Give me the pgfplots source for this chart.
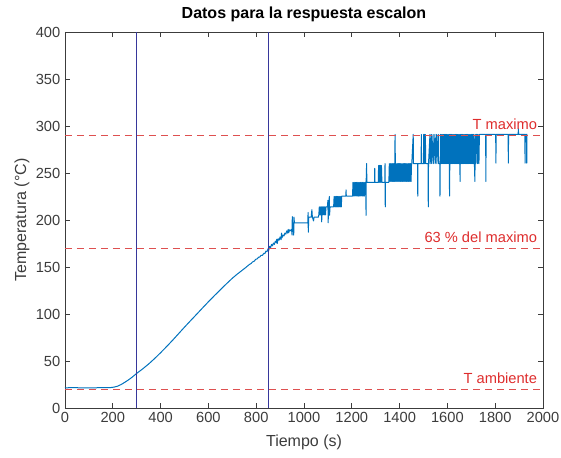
\documentclass[border=0pt]{standalone}
\usepackage{fontspec}
\setmainfont{Liberation Sans}
\usepackage{pgfplots}
\pgfplotsset{compat=1.18}
\definecolor{mblue}{rgb}{0,0.447,0.741}
\definecolor{vline}{RGB}{55,55,155}
\definecolor{dred}{RGB}{222,80,80}
\definecolor{tred}{RGB}{222,45,45}
\definecolor{axgray}{RGB}{60,60,60}
\begin{document}
\begin{tikzpicture}
\begin{axis}[
  scale only axis, width=358.5pt, height=282pt,
  xmin=0, xmax=2000, ymin=0, ymax=400,
  xtick={0,200,...,2000}, ytick={0,50,...,400},
  tick align=inside, tick pos=both, major tick length=3.75pt,
  axis line style={axgray, line width=0.6pt},
  tick style={axgray, line width=0.6pt},
  ticklabel style={font=\fontsize{11}{13}\selectfont, text=axgray},
  /pgf/number format/assume math mode=true,
  scaled ticks=false, /pgf/number format/1000 sep={},
  title={\bfseries Datos para la respuesta escalon},
  title style={font=\fontsize{12}{14}\selectfont, at={(0.5,1)}, anchor=south, yshift=-2pt},
  xlabel={Tiempo (s)}, ylabel={Temperatura (°C)},
  label style={font=\fontsize{12}{14}\selectfont, text=axgray},
  xlabel style={yshift=-2pt},
  ylabel style={yshift=-2pt},
]
\addplot[mblue, line width=0.75pt, line join=round] coordinates {
(0,21.5)(40,21.6)(80,21.4)(120,21.5)(160,21.6)(190,21.7)(205,22.2)(220,23.2)(235,25)(250,27.3)(265,29.8)(280,32.6)(300,36.8)(325,41.6)(350,46.8)(375,52.6)(400,58.8)(425,65.3)(450,72)(475,79)(500,86)(525,92.8)(550,99.5)(575,106.3)(600,113)(625,119.5)(650,125.8)(675,132)(700,138)(720,142.3)(740,146.2)(755,149.2)(765,151.3)(772,152.8)(778,153.6)(785,155.4)(792,156.2)(798,158.2)(804,158.6)(810,160.4)(815,160.6)(820,162.4)(826,162.4)(832,164.6)(836,164.2)(841,167)(845,166.2)(850,169.5)
(853,168)(856,172)(860,170.5)(864,174)(868,172.5)(872,175.5)(876,174)(880,177.5)(884,176)(886,179.5)(888,175)(892,180)(896,178.5)(900,182)(904,179)(906,186)(908,181)(912,184)(916,183)(920,186)(924,185)(928,188.5)(932,186)(934,190)(936,186.5)(940,189.5)(944,188.5)(948,190)(950,184)(951,203.5)(953,188)(955,197)
(957,184)(958,203)(960,197)(985,197)(1000,197)(1016,197)(1017,208)(1018,187)(1020,203)(1030,203)(1033,211)(1035,203)(1040,199)(1042,203)(1060,203)(1062,205.5)
(1064,214)(1066,205.5)(1068,214)(1070,205.5)(1072,214)(1074,198)(1076,214)(1078,205.5)(1080,214)(1082,205.5)(1084,214)(1086,205.5)(1088,214)(1090,205.5)(1092,214)
(1098,214)(1100,221)(1101,197)(1103,214)(1106,225)(1107,205)(1109,214)(1124,214)
(1126,225)(1128,214)(1130,225)(1132,214)(1134,225)(1136,214)(1138,225)(1140,214)(1142,225)(1144,214)(1146,225)(1148,214)(1150,225)(1152,214)(1154,225)(1156,214)(1158,225.5)
(1170,225.5)(1175,225.5)(1176,232)(1177,225.5)(1190,225.5)(1203,225.5)
(1205,240)(1208,225.5)(1210,240)(1213,225.5)(1215,240)(1218,225.5)(1220,240)(1223,225.5)(1225,240)(1228,225.5)(1230,240)(1233,225.5)(1235,240)(1238,225.5)(1240,240)(1243,225.5)(1245,240)(1248,225.5)(1250,240)(1253,225.5)(1255,240)
(1259,240)(1259.5,205)(1260,240)(1262,260)(1263,240)(1280,240)(1295,240)(1296,255)(1297,240)(1311,240)(1312,258)(1314,240)(1316,258)(1318,240)(1320,258)(1322,240)(1324,258)(1326,240)(1338,240)(1339,260)(1340,214)(1341,240)(1355,240)
(1357,260)(1360,241)(1362,260)(1365,241)(1367,260)(1370,241)(1372,260)(1375,241)(1377,260)(1379,241)(1381,291)(1383,241)(1385,260)(1388,241)(1390,260)(1393,241)(1395,260)(1398,241)(1400,260)(1403,241)(1405,260)(1408,241)(1410,260)(1413,241)(1415,260)(1418,241)(1420,260)(1423,241)(1425,260)(1428,241)(1430,260)(1433,241)(1435,260)(1438,241)(1440,260)(1443,241)(1445,260)(1448,241)(1450,260)
(1451,260)(1457,291)(1458,260)(1475,260)(1476,225.5)(1477,260)(1490,260)(1491,291)(1492,260)(1500,260)(1501,291)(1502,260)(1504,291)(1505,260)(1508,291)(1509,260)(1519,260)(1520,214)(1521,260)(1527,291)(1528,260)(1533,291)(1534,260)(1540,291)(1541,260)(1548,291)(1549,260)(1555,291)(1556,260)(1562,291)(1563,260)(1568,260)(1569,225.5)(1570,260)
(1571,291)(1573,260)(1575,291)(1577,260)(1579,291)(1581,260)(1583,291)(1585,260)(1587,291)(1589,260)(1591,291)(1593,260)(1595,291)(1597,260)(1599,291)(1601,260)(1603,291)(1605,260)(1607,291)(1609,225.5)(1611,291)(1613,260)(1615,291)(1617,260)(1619,291)(1621,260)(1623,291)(1625,260)(1627,291)(1629,260)(1631,291)(1633,260)(1635,291)(1637,260)(1639,291)(1641,260)(1643,291)(1645,260)(1647,291)(1649,260)(1651,291)(1653,241)(1655,291)(1657,260)(1659,291)(1661,260)(1663,291)(1665,260)(1667,291)(1669,260)(1671,291)(1673,260)(1675,291)(1677,260)(1679,291)(1681,260)(1683,291)(1685,260)(1687,291)(1689,260)(1691,291)(1693,260)(1695,291)(1697,260)(1699,291)(1701,260)(1703,291)(1705,260)(1707,291)(1709,260)(1711,291)(1713,260)(1715,241)(1717,291)(1719,260)(1721,291)
(1724,291)(1726,260)(1728,291)(1732,260)(1734,291)(1760,291)(1761,241)(1762,291)(1802,291)(1803,260.5)(1804,291)(1854,291)(1855,260.5)(1856,291)(1896,291)(1897,297)(1898,291)(1924,291)(1925,260.5)(1926,291)(1931,291)(1932,260.5)(1933,291)(1935,291)
};
\addplot[vline, line width=0.6pt] coordinates {(300,0)(300,400)};
\addplot[vline, line width=0.6pt] coordinates {(850,0)(850,400)};
\addplot[dred, line width=0.7pt, dash pattern=on 5.5pt off 3.5pt] coordinates {(0,290)(2000,290)};
\addplot[dred, line width=0.7pt, dash pattern=on 5.5pt off 3.5pt] coordinates {(0,170.1)(2000,170.1)};
\addplot[dred, line width=0.7pt, dash pattern=on 5.5pt off 3.5pt] coordinates {(0,20)(2000,20)};
\node[anchor=base east, inner sep=0pt, yshift=4.5pt, text=tred, font=\fontsize{11}{13}\selectfont] at (axis cs:1976,290) {T maximo};
\node[anchor=base east, inner sep=0pt, yshift=4.5pt, text=tred, font=\fontsize{11}{13}\selectfont] at (axis cs:1976,170.1) {63 \% del maximo};
\node[anchor=base east, inner sep=0pt, yshift=4.5pt, text=tred, font=\fontsize{11}{13}\selectfont] at (axis cs:1976,20) {T ambiente};
\end{axis}
\pgfresetboundingbox
\useasboundingbox ([shift={(-48.75pt,-37.5pt)}]current axis.south west) rectangle ([shift={(13.5pt,24pt)}]current axis.north east);
\end{tikzpicture}
\end{document}
